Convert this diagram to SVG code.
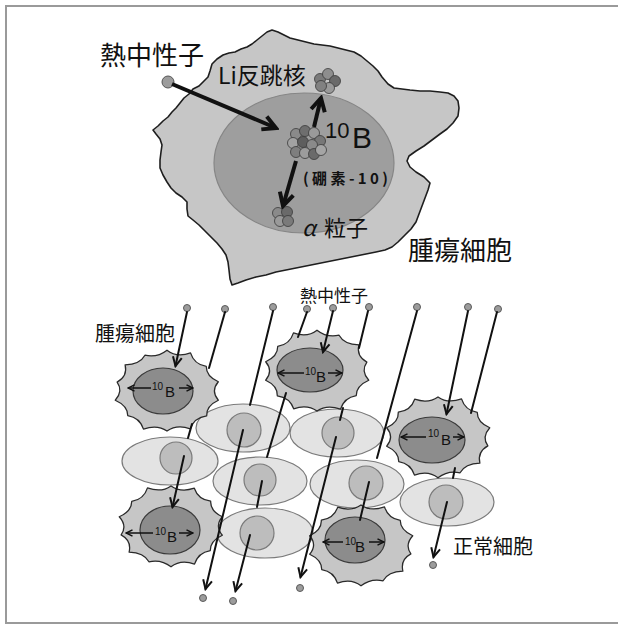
<svg xmlns="http://www.w3.org/2000/svg" xmlns:xlink="http://www.w3.org/1999/xlink" width="618" height="626" viewBox="0 0 618 626">
  <style>
    .jp { font-family: "Noto Sans CJK JP", "Noto Sans", sans-serif; fill: #111; }
    .lat { font-family: "Liberation Sans", Arial, sans-serif; fill: #111; }
    .cyto { fill: #c6c6c6; stroke: #2a2a2a; stroke-width: 1.2; stroke-linejoin: round; }
    .tnuc { fill: #8c8c8c; stroke: #3a3a3a; stroke-width: 1.2; }
    .ncell { fill: #e3e3e3; stroke: #7a7a7a; stroke-width: 1.2; }
    .nnuc { fill: #bdbdbd; stroke: #7a7a7a; stroke-width: 1.2; }
    .dot { fill: #9c9c9c; stroke: #5a5a5a; stroke-width: 1; }
    .ray { fill: none; stroke: #111; stroke-width: 2; stroke-linecap: round; }
    .bold { fill: none; stroke: #111; stroke-width: 4; stroke-linecap: butt; }
    .ba { fill: none; stroke: #111; stroke-width: 1.5; }
    .atom { stroke: #3a3a3a; stroke-width: 0.8; }
  </style>
  <defs>
    <marker id="chev" viewBox="0 0 12 12" markerWidth="12" markerHeight="12" refX="10" refY="6" orient="auto" markerUnits="userSpaceOnUse">
      <path d="M1,1.5 L10,6 L1,10.5" fill="none" stroke="#111" stroke-width="2"/>
    </marker>
    <marker id="chevBig" viewBox="0 0 18 18" markerWidth="18" markerHeight="18" refX="15" refY="9" orient="auto" markerUnits="userSpaceOnUse">
      <path d="M2,2 L15,9 L2,16" fill="none" stroke="#111" stroke-width="4"/>
    </marker>
    <marker id="tip" viewBox="0 0 8 8" markerWidth="8" markerHeight="8" refX="7" refY="4" orient="auto" markerUnits="userSpaceOnUse">
      <path d="M0.5,0.8 L7,4 L0.5,7.2" fill="none" stroke="#111" stroke-width="1.5"/>
    </marker>
    <!-- tumour cell body with small points, about 100 x 80 -->
    <path id="tumor-body" class="cyto" transform="scale(1.05)" d="M48.9,8.8 Q37.3,14.1 37.8,23.6 Q25.8,25.3 22.2,36 Q9.2,31.6 0,38.2 Q-9.2,31.6 -22.4,36.3 Q-25.8,25.3 -37.4,23.4 Q-37.3,14.1 -49.3,8.8 Q-41.4,0 -47.5,-8.5 Q-37.3,-14.1 -39.9,-24.9 Q-25.8,-25.3 -21,-34.1 Q-9.2,-31.6 0,-38.9 Q9.2,-31.6 22.4,-36.3 Q25.8,-25.3 37.4,-23.4 Q37.3,-14.1 48.9,-8.8 Q41.4,0 48.9,8.8 Z"/>
  </defs>

  <!-- frame -->
  <rect x="6" y="6" width="620" height="617" fill="none" stroke="#9a9a9a" stroke-width="2"/>

  <!-- ===== upper figure: capture reaction in one tumour cell ===== -->
  <g id="tumor-cell-large">
    <path fill="#c6c6c6" stroke="#1e1e1e" stroke-width="1.6" stroke-linejoin="round" d="M153,130 L158,126 L163,121 L168,117 L172,112 L176,108 L180,103 L184,98 L189,94 L193,89 L199,86 L204,81 L208,77 L210,71 L212,64 L217,59 L223,55 L229,53 L235,52 L241,49 L247,47 L252,44 L257,40 L262,36 L267,32 L272,30 L278,32 L284,35 L290,38 L298,40 L306,42 L314,44 L322,45 L330,46 L338,48 L346,50 L354,52 L361,56 L367,61 L373,66 L378,71 L382,77 L388,84 L394,88 L402,89 L410,90 L420,91 L430,91 L440,92 L448,93 L454,96 L458,101 L459,108 L458,116 L453,123 L447,129 L440,134 L432,140 L424,146 L416,151 L409,156 L407,161 L410,167 L416,172 L424,177 L430,183 L428,190 L425,198 L422,206 L419,214 L416,222 L411,229 L405,235 L398,242 L392,247 L385,250 L376,252 L366,254 L356,256 L346,258 L336,260 L326,262 L316,264 L306,266 L296,268 L286,270 L276,272 L266,275 L256,277 L246,280 L238,283 L232,285 L230,279 L229,270 L228,262 L226,255 L222,249 L217,243 L211,237 L205,231 L199,225 L193,220 L188,216 L187,209 L187,202 L182,197 L176,193 L171,188 L167,182 L163,175 L160,168 L160,160 L161,152 L162,145 L160,139 L156,134 Z"/>
    <ellipse cx="304" cy="163" rx="90" ry="70" fill="#9e9e9e" stroke="#868686" stroke-width="1.2"/>
    <text class="jp" x="408" y="260" font-size="26">腫瘍細胞</text>
  </g>

  <g id="neutron-in">
    <circle cx="168" cy="82" r="6" fill="#9c9c9c" stroke="#555" stroke-width="1"/>
    <text class="jp" x="100" y="65" font-size="26">熱中性子</text>
  </g>

  <g id="li-nucleus">
    <circle class="atom" cx="320" cy="79" r="5.5" fill="#7a7a7a"/>
    <circle class="atom" cx="328" cy="74" r="5.5" fill="#8e8e8e"/>
    <circle class="atom" cx="335" cy="81" r="5.5" fill="#6a6a6a"/>
    <circle class="atom" cx="329" cy="88" r="5.5" fill="#9a9a9a"/>
    <circle class="atom" cx="321" cy="86" r="5.5" fill="#818181"/>
    <text class="jp" x="218" y="84" font-size="23">Li反跳核</text>
  </g>

  <g id="b10-nucleus">
    <circle class="atom" cx="296" cy="134" r="5.5" fill="#8a8a8a"/>
    <circle class="atom" cx="305" cy="131" r="5.5" fill="#6e6e6e"/>
    <circle class="atom" cx="314" cy="133" r="5.5" fill="#9a9a9a"/>
    <circle class="atom" cx="320" cy="141" r="5.5" fill="#777"/>
    <circle class="atom" cx="293" cy="143" r="5.5" fill="#a2a2a2"/>
    <circle class="atom" cx="303" cy="142" r="5.5" fill="#5e5e5e"/>
    <circle class="atom" cx="312" cy="145" r="5.5" fill="#8a8a8a"/>
    <circle class="atom" cx="296" cy="152" r="5.5" fill="#7e7e7e"/>
    <circle class="atom" cx="305" cy="153" r="5.5" fill="#9c9c9c"/>
    <circle class="atom" cx="314" cy="154" r="5.5" fill="#6a6a6a"/>
    <circle class="atom" cx="321" cy="150" r="5.5" fill="#a5a5a5"/>
    <text class="lat"><tspan x="325" y="138" font-size="22">10</tspan><tspan x="352" y="148" font-size="30">B</tspan></text>
    <text class="jp" x="303" y="184" font-size="15" font-weight="bold" textLength="85" lengthAdjust="spacing">(硼素-10)</text>
  </g>

  <g id="alpha-particle">
    <circle class="atom" cx="278" cy="213" r="5.5" fill="#8a8a8a"/>
    <circle class="atom" cx="287" cy="212" r="5.5" fill="#6a6a6a"/>
    <circle class="atom" cx="280" cy="221" r="5.5" fill="#9a9a9a"/>
    <circle class="atom" cx="288" cy="221" r="5.5" fill="#7a7a7a"/>
    <text class="jp" y="236" font-size="22"><tspan x="302" font-style="italic">α</tspan><tspan x="324">粒子</tspan></text>
  </g>

  <!-- ===== lower figure: tissue irradiated by thermal neutrons ===== -->
  <g id="normal-cells">
    <g id="normal-1"><ellipse class="ncell" cx="243" cy="428" rx="47" ry="24"/><circle class="nnuc" cx="244" cy="430" r="17"/></g>
    <g id="normal-2"><ellipse class="ncell" cx="337" cy="433" rx="47" ry="24"/><circle class="nnuc" cx="338" cy="433" r="16"/></g>
    <g id="normal-3"><ellipse class="ncell" cx="170" cy="461" rx="48" ry="24"/><circle class="nnuc" cx="176" cy="458" r="16"/></g>
    <g id="normal-4"><ellipse class="ncell" cx="260" cy="481" rx="47" ry="24"/><circle class="nnuc" cx="260" cy="480" r="16"/></g>
    <g id="normal-5"><ellipse class="ncell" cx="357" cy="484" rx="47" ry="24"/><circle class="nnuc" cx="366" cy="483" r="17"/></g>
    <g id="normal-6"><ellipse class="ncell" cx="447" cy="502" rx="47" ry="24"/><circle class="nnuc" cx="446" cy="502" r="17"/></g>
    <g id="normal-7"><ellipse class="ncell" cx="265" cy="533" rx="48" ry="25"/><circle class="nnuc" cx="257" cy="533" r="17"/></g>
  </g>

  <g id="tumor-1">
    <use xlink:href="#tumor-body" href="#tumor-body" transform="translate(167,391)"/>
    <ellipse class="tnuc" cx="163" cy="391" rx="30" ry="23"/>
    <path class="ba" d="M151,388 H128" marker-end="url(#tip)"/>
    <path class="ba" d="M179,388 H193" marker-end="url(#tip)"/>
    <text class="lat"><tspan x="152" y="390" font-size="10">10</tspan><tspan x="165" y="397" font-size="15">B</tspan></text>
  </g>
  <g id="tumor-2">
    <use xlink:href="#tumor-body" href="#tumor-body" transform="translate(317,371) scale(-1,1)"/>
    <ellipse class="tnuc" cx="310" cy="370" rx="33" ry="22"/>
    <path class="ba" d="M304,373 H278" marker-end="url(#tip)"/>
    <path class="ba" d="M328,373 H342" marker-end="url(#tip)"/>
    <text class="lat"><tspan x="305" y="375" font-size="10">10</tspan><tspan x="316" y="382" font-size="15">B</tspan></text>
  </g>
  <g id="tumor-3">
    <use xlink:href="#tumor-body" href="#tumor-body" transform="translate(438,437) rotate(180)"/>
    <ellipse class="tnuc" cx="432" cy="440" rx="33" ry="23"/>
    <path class="ba" d="M426,437 H401" marker-end="url(#tip)"/>
    <path class="ba" d="M453,437 H464" marker-end="url(#tip)"/>
    <text class="lat"><tspan x="428" y="437" font-size="10">10</tspan><tspan x="441" y="445" font-size="15">B</tspan></text>
  </g>
  <g id="tumor-4">
    <use xlink:href="#tumor-body" href="#tumor-body" transform="translate(171,526) scale(1,-1)"/>
    <ellipse class="tnuc" cx="170" cy="530" rx="30" ry="24"/>
    <path class="ba" d="M153,533 H126" marker-end="url(#tip)"/>
    <path class="ba" d="M179,533 H193" marker-end="url(#tip)"/>
    <text class="lat"><tspan x="155" y="535" font-size="10">10</tspan><tspan x="167" y="542" font-size="15">B</tspan></text>
  </g>
  <g id="tumor-5">
    <use xlink:href="#tumor-body" href="#tumor-body" transform="translate(361,545) scale(-1,-1)"/>
    <ellipse class="tnuc" cx="355" cy="540" rx="30" ry="23"/>
    <path class="ba" d="M343,542 H323" marker-end="url(#tip)"/>
    <path class="ba" d="M369,542 H384" marker-end="url(#tip)"/>
    <text class="lat"><tspan x="345" y="545" font-size="10">10</tspan><tspan x="355" y="552" font-size="15">B</tspan></text>
  </g>

  <g id="neutron-sources">
    <circle class="dot" cx="187" cy="308" r="3.5"/>
    <circle class="dot" cx="225" cy="309" r="3.5"/>
    <circle class="dot" cx="273" cy="307" r="3.5"/>
    <circle class="dot" cx="307" cy="309" r="3.5"/>
    <circle class="dot" cx="333" cy="308" r="3.5"/>
    <circle class="dot" cx="369" cy="307" r="3.5"/>
    <circle class="dot" cx="417" cy="307" r="3.5"/>
    <circle class="dot" cx="468" cy="307" r="3.5"/>
    <circle class="dot" cx="498" cy="309" r="3.5"/>
  </g>
  <g id="neutron-exits">
    <circle class="dot" cx="203" cy="598" r="3.5"/>
    <circle class="dot" cx="233" cy="601" r="3.5"/>
    <circle class="dot" cx="300" cy="588" r="3.5"/>
    <circle class="dot" cx="433" cy="565" r="3.5"/>
  </g>

  <g id="labels">
    <text class="jp" x="300" y="302" font-size="17">熱中性子</text>
    <text class="jp" x="95" y="341" font-size="20">腫瘍細胞</text>
    <text class="jp" x="453" y="554" font-size="20">正常細胞</text>
  </g>

  <!-- connectors: reaction arrows and neutron paths -->
  <g id="connectors">
    <path class="bold" d="M172,84 L276,128" marker-end="url(#chevBig)"/>
    <path class="bold" d="M314,127 L321,98" marker-end="url(#chevBig)"/>
    <path class="bold" d="M296,161 L283,206" marker-end="url(#chevBig)"/>

    <path class="ray" d="M187,312 L175.5,366" marker-end="url(#chev)"/>
    <path class="ray" d="M225,312 L209,368"/>
    <path class="ray" d="M192,424 L188,438"/>
    <path class="ray" d="M184,456 L172.5,507" marker-end="url(#chev)"/>
    <path class="ray" d="M273,311 L250,405"/>
    <path class="ray" d="M243,430 L205.5,589" marker-end="url(#chev)"/>
    <path class="ray" d="M307,312 L298,337"/>
    <path class="ray" d="M286,393 L267,457"/>
    <path class="ray" d="M262,481 L257,507"/>
    <path class="ray" d="M250,535 L235.5,591" marker-end="url(#chev)"/>
    <path class="ray" d="M333,311 L323,352" marker-end="url(#chev)"/>
    <path class="ray" d="M368,311 L359,348"/>
    <path class="ray" d="M343,408 L340,420"/>
    <path class="ray" d="M336,437 L300.5,577" marker-end="url(#chev)"/>
    <path class="ray" d="M417,311 L377,458"/>
    <path class="ray" d="M369,482 L360,520"/>
    <path class="ray" d="M468,311 L446.5,414" marker-end="url(#chev)"/>
    <path class="ray" d="M497,312 L471,413"/>
    <path class="ray" d="M455,468 L453,478"/>
    <path class="ray" d="M447,502 L433.5,557" marker-end="url(#chev)"/>
  </g>
</svg>
